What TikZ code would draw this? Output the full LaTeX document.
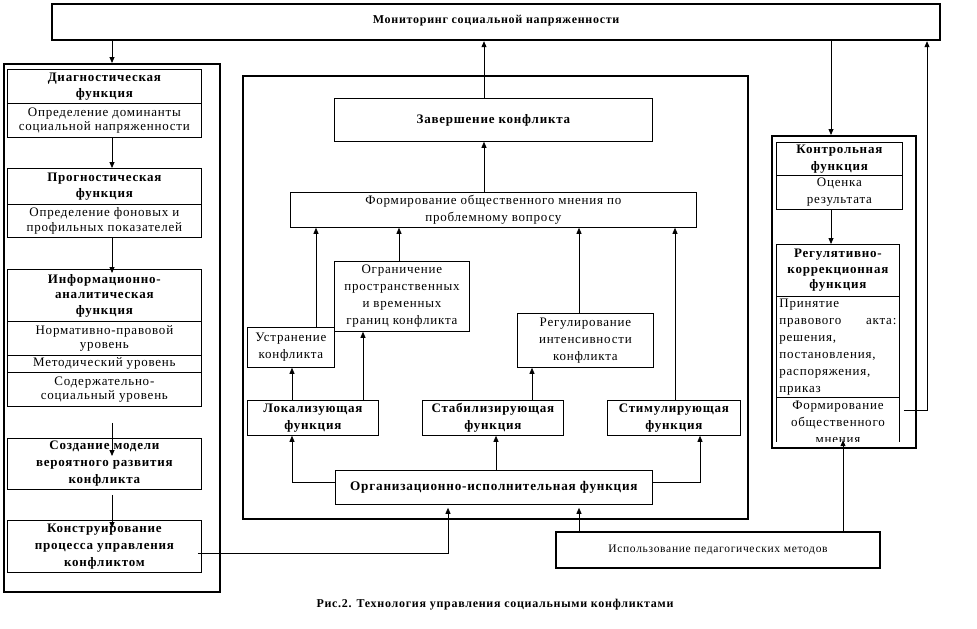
\documentclass[tikz,border=0pt]{standalone}
\usepackage{fontspec}
\setmainfont{Liberation Serif}[LetterSpace=6]
\usetikzlibrary{arrows.meta, positioning}

\begin{document}
\begin{tikzpicture}[x=1pt, y=-1pt, >={Triangle[length=6pt, width=5pt]},
  box/.style={draw, line width=0.8pt, anchor=north west, inner sep=1pt, align=center,
    font=\fontsize{13}{14.5}\selectfont},
  cbox/.style={box, font=\fontsize{13}{17}\selectfont},
  hbox/.style={box, font=\bfseries\fontsize{13}{15.5}\selectfont},
  frame/.style={draw, line width=2.2pt, anchor=north west, inner sep=0pt},
  link/.style={line width=0.8pt},
  arr/.style={link, ->}]

  \useasboundingbox (0,0) rectangle (977,629);

  % ── Outer frames ─────────────────────────────────────────────
  \node[frame, minimum width=888pt, minimum height=36pt, inner ysep=3pt,
        text height=6pt, font=\bfseries\fontsize{12}{13}\selectfont] (mon) at (51,3)
        {Мониторинг социальной напряженности};
  \node[frame, minimum width=216pt, minimum height=528pt] (lframe) at (3,63) {};
  \node[frame, minimum width=505pt, minimum height=443pt] (cframe) at (242,75) {};
  \node[frame, minimum width=144pt, minimum height=312pt] (rframe) at (771,135) {};

  % ── Left column ──────────────────────────────────────────────
  \node[hbox, minimum width=194pt, minimum height=34pt] (diagT) at (7,69) {Диагностическая\\функция};
  \node[box,  minimum width=194pt, minimum height=34pt] (diagD) at (7,103) {Определение доминанты\\социальной напряженности};
  \node[hbox, minimum width=194pt, minimum height=36pt] (progT) at (7,168) {Прогностическая\\функция};
  \node[box,  minimum width=194pt, minimum height=33pt] (progD) at (7,204) {Определение фоновых и\\профильных показателей};
  \node[hbox, minimum width=194pt, minimum height=52pt] (infoT) at (7,269) {Информационно-\\аналитическая\\функция};
  \node[box,  minimum width=194pt, minimum height=34pt] (infoA) at (7,321) {Нормативно-правовой\\уровень};
  \node[box,  minimum width=194pt, minimum height=17pt] (infoB) at (7,355) {Методический уровень};
  \node[box,  minimum width=194pt, minimum height=34pt] (infoC) at (7,372) {Содержательно-\\социальный уровень};
  \node[hbox, minimum width=194pt, minimum height=51pt,
        font=\bfseries\fontsize{13}{17}\selectfont] (model) at (7,438) {Создание модели\\вероятного развития\\конфликта};
  \node[hbox, minimum width=194pt, minimum height=52pt,
        font=\bfseries\fontsize{13}{17}\selectfont] (constr) at (7,520) {Конструирование\\процесса управления\\конфликтом};

  % ── Centre block ─────────────────────────────────────────────
  \node[hbox, minimum width=318pt, minimum height=43pt] (zav) at (334,98) {Завершение конфликта};
  \node[cbox, minimum width=406pt, minimum height=35pt] (form) at (290,192) {Формирование общественного мнения по\\проблемному вопросу};
  \node[cbox, minimum width=135pt, minimum height=70pt] (ogr) at (334,261) {Ограничение\\пространственных\\и временных\\границ конфликта};
  \node[cbox, minimum width=87pt,  minimum height=40pt] (ustr) at (247,327) {Устранение\\конфликта};
  \node[cbox, minimum width=136pt, minimum height=54pt] (reg) at (517,313) {Регулирование\\интенсивности\\конфликта};
  \node[hbox, minimum width=131pt, minimum height=35pt,
        font=\bfseries\fontsize{13}{17}\selectfont] (lok) at (247,400) {Локализующая\\функция};
  \node[hbox, minimum width=141pt, minimum height=35pt,
        font=\bfseries\fontsize{13}{17}\selectfont] (stab) at (422,400) {Стабилизирующая\\функция};
  \node[hbox, minimum width=133pt, minimum height=35pt,
        font=\bfseries\fontsize{13}{17}\selectfont] (stim) at (607,400) {Стимулирующая\\функция};
  \node[hbox, minimum width=317pt, minimum height=34pt,
        font=\bfseries\fontsize{13.2}{15}\selectfont] (org) at (335,470) {Организационно-исполнительная функция};

  % ── Right column ─────────────────────────────────────────────
  \node[hbox, minimum width=126pt, minimum height=33pt,
        font=\bfseries\fontsize{13}{17}\selectfont] (kontT) at (776,142) {Контрольная\\функция};
  \node[cbox, minimum width=126pt, minimum height=34pt] (kontD) at (776,175) {Оценка\\результата};
  \node[hbox, minimum width=123pt, minimum height=52pt] (regT) at (776,244) {Регулятивно-\\коррекционная\\функция};
  \node[cbox, align=left, text width=117pt, inner xsep=3pt, minimum height=101pt] (regD) at (776,296)
        {Принятие\\правового\hfill акта:\\решения,\\постановления,\\распоряжения,\\приказ};
  \begin{scope}
    \clip (771,397) rectangle (915,441);
    \node[cbox, minimum width=123pt, minimum height=50pt] (formM) at (776,397) {Формирование\\общественного\\мнения};
  \end{scope}

  % ── Bottom box and caption ───────────────────────────────────
  \node[frame, line width=2pt, minimum width=324pt, minimum height=36pt,
        font=\fontsize{11.5}{13}\selectfont] (ped) at (555,531) {Использование педагогических методов};
  \node[font=\bfseries\fontsize{12}{14}\selectfont] (cap) at (495,605)
        {Рис.2. Технология управления социальными конфликтами};

  % ── Connectors: left column ──────────────────────────────────
  \coordinate (lx) at (112,0);
  \draw[arr] (mon.south -| lx) -- (lframe.north -| lx);
  \draw[arr] (diagD.south -| lx) -- (progT.north -| lx);
  \draw[arr, shorten >=-4pt] (progD.south -| lx) -- (infoT.north -| lx);
  \draw[arr, shorten <=16pt, shorten >=-18pt] (infoC.south -| lx) -- (model.north -| lx);
  \draw[arr, shorten <=5pt, shorten >=-8pt] (model.south -| lx) -- (constr.north -| lx);
  \coordinate (kx) at (448,0);
  \draw[arr, shorten >=3pt] ([xshift=-4pt, yshift=-7pt]constr.east) -| (org.south -| kx);

  % ── Connectors: centre block ─────────────────────────────────
  \coordinate (cx) at (484,0);
  \draw[arr] (zav.north -| cx) -- (mon.south -| cx);
  \draw[arr] (form.north -| cx) -- (zav.south -| cx);
  \foreach \src/\xx in {ustr/316, ogr/399, reg/579, stim/675} {
    \coordinate (tmp) at (\xx,0);
    \draw[arr] (\src.north -| tmp) -- (form.south -| tmp);
  }
  \foreach \src/\dst/\xx in {lok/ustr/292, lok/ogr/363, stab/reg/532} {
    \coordinate (tmp) at (\xx,0);
    \draw[arr] (\src.north -| tmp) -- (\dst.south -| tmp);
  }
  \coordinate (ox) at (496,0);
  \draw[arr] (org.north -| ox) -- (stab.south -| ox);
  \coordinate (lkx) at (292,0);
  \coordinate (smx) at (700,0);
  \draw[arr] ([yshift=5pt]org.west) -| (lok.south -| lkx);
  \draw[arr] ([yshift=5pt]org.east) -| (stim.south -| smx);

  % ── Connectors: bottom box and right column ──────────────────
  \coordinate (px) at (579,0);
  \draw[arr, shorten >=3pt] (ped.north -| px) -- (org.south -| px);
  \coordinate (fx) at (843,0);
  \draw[arr, shorten >=-9pt] (ped.north -| fx) -- (rframe.south -| fx);
  \coordinate (rx) at (831,0);
  \draw[arr] (mon.south -| rx) -- (rframe.north -| rx);
  \draw[arr] (kontD.south -| rx) -- (regT.north -| rx);
  \coordinate (ux) at (927,0);
  \draw[arr] ([xshift=4pt, yshift=12pt]formM.east) -| (mon.south -| ux);
\end{tikzpicture}
\end{document}
